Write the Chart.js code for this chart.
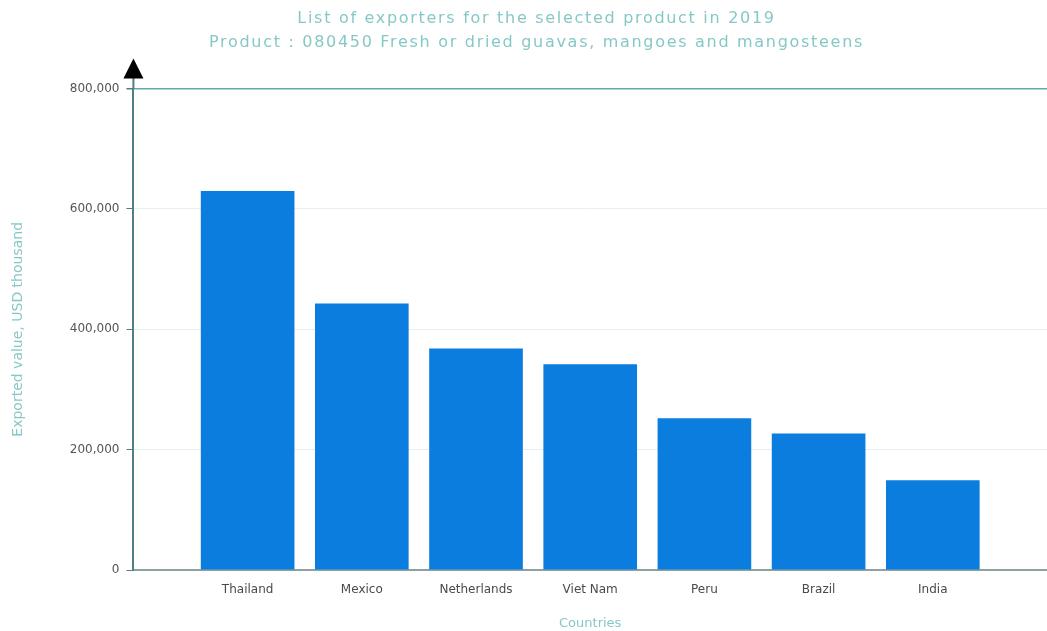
<!DOCTYPE html>
<html>
<head>
<meta charset="utf-8">
<script src="https://cdn.jsdelivr.net/npm/chart.js@4.4.1/dist/chart.umd.min.js"></script>
<style>
html,body{margin:0;padding:0;background:#fff;}
#wrap{width:1047px;height:631px;position:relative;}
</style>
</head>
<body>
<div id="wrap"><canvas id="c" width="1047" height="631"></canvas></div>
<script>
const titleLines = ["List of exporters for the selected product in 2019", "Product : 080450 Fresh or dried guavas, mangoes and mangosteens"];
const categories = ["Thailand", "Mexico", "Netherlands", "Viet Nam", "Peru", "Brazil", "India"];
const exportValues = [630000, 443000, 368000, 342000, 252000, 227000, 149000];
const yTickValues = [0, 200000, 400000, 600000, 800000];
const xAxisTitle = "Countries";
const yAxisTitle = "Exported value, USD thousand";

const tealText = "#86c8c6";

const arrowPlugin = {
  id: 'arrow',
  afterInit(chart) {
    const tb = chart.titleBlock;
    if (tb && !tb._patched) {
      const orig = tb.draw;
      tb.draw = function () {
        const ctx = this.ctx || chart.ctx;
        ctx.save();
        ctx.letterSpacing = '1.7px';
        ctx.translate(8, 0);
        orig.apply(this, arguments);
        ctx.restore();
      };
      tb._patched = true;
    }
  },
  afterDraw(chart) {
    const ctx = chart.ctx;
    const x = chart.scales.y.left + chart.scales.y.width;
    const top = chart.chartArea.top;
    ctx.save();
    ctx.strokeStyle = "#4f7f80";
    ctx.lineWidth = 2;
    ctx.beginPath();
    ctx.moveTo(x, top);
    ctx.lineTo(x, top - 12);
    ctx.stroke();
    ctx.fillStyle = "#000";
    ctx.beginPath();
    ctx.moveTo(x, top - 30);
    ctx.lineTo(x - 10, top - 10);
    ctx.lineTo(x + 10, top - 10);
    ctx.closePath();
    ctx.fill();
    ctx.restore();
  }
};

new Chart(document.getElementById('c'), {
  type: 'bar',
  data: {
    datasets: [{
      data: exportValues.map((v, i) => ({x: i, y: v})),
      backgroundColor: "#0b7ddf",
      borderWidth: 0,
      barPercentage: 0.82,
      categoryPercentage: 1.0
    }]
  },
  options: {
    responsive: false,
    animation: false,
    layout: {padding: {left: 10, right: 0, top: 0, bottom: 0}},
    plugins: {
      legend: {display: false},
      tooltip: {enabled: false},
      title: {
        display: true,
        text: titleLines,
        color: tealText,
        font: {family: "DejaVu Sans", size: 16, weight: 'normal', lineHeight: 1.55},
        padding: {top: 6, bottom: 33}
      }
    },
    scales: {
      x: {
        type: 'linear',
        offset: false,
        min: -1,
        max: 7,
        afterBuildTicks(scale) {
          scale.ticks = categories.map((c, i) => ({value: i}));
        },
        ticks: {
          callback: (v) => categories[v] !== undefined ? categories[v] : '',
          color: "#4a4a4a",
          font: {family: "DejaVu Sans", size: 12},
          padding: 13,
          maxRotation: 0,
          autoSkip: false
        },
        grid: {display: false, drawTicks: false},
        border: {display: true, color: "#8fa2a2", width: 2},
        title: {
          display: true,
          text: xAxisTitle,
          color: tealText,
          font: {family: "DejaVu Sans", size: 13},
          padding: {top: 5, bottom: 0}
        }
      },
      y: {
        min: 0,
        max: 800000,
        afterBuildTicks(scale) {
          scale.ticks = yTickValues.map(v => ({value: v}));
        },
        ticks: {
          callback: (v) => v.toLocaleString('en-US'),
          color: "#555",
          font: {family: "DejaVu Sans", size: 12},
          padding: 7
        },
        grid: {
          color: (ctx) => ctx.tick && ctx.tick.value === 800000 ? "#5fa9b0" : "#e3eff3",
          lineWidth: (ctx) => ctx.tick && ctx.tick.value === 800000 ? 1.5 : 1,
          tickLength: 7,
          tickColor: "#4f7f80"
        },
        border: {display: true, color: "#4f7f80", width: 2},
        title: {
          display: true,
          text: yAxisTitle,
          color: tealText,
          font: {family: "DejaVu Sans", size: 14},
          padding: {top: 0, bottom: 36}
        }
      }
    }
  },
  plugins: [arrowPlugin]
});
</script>
</body>
</html>
